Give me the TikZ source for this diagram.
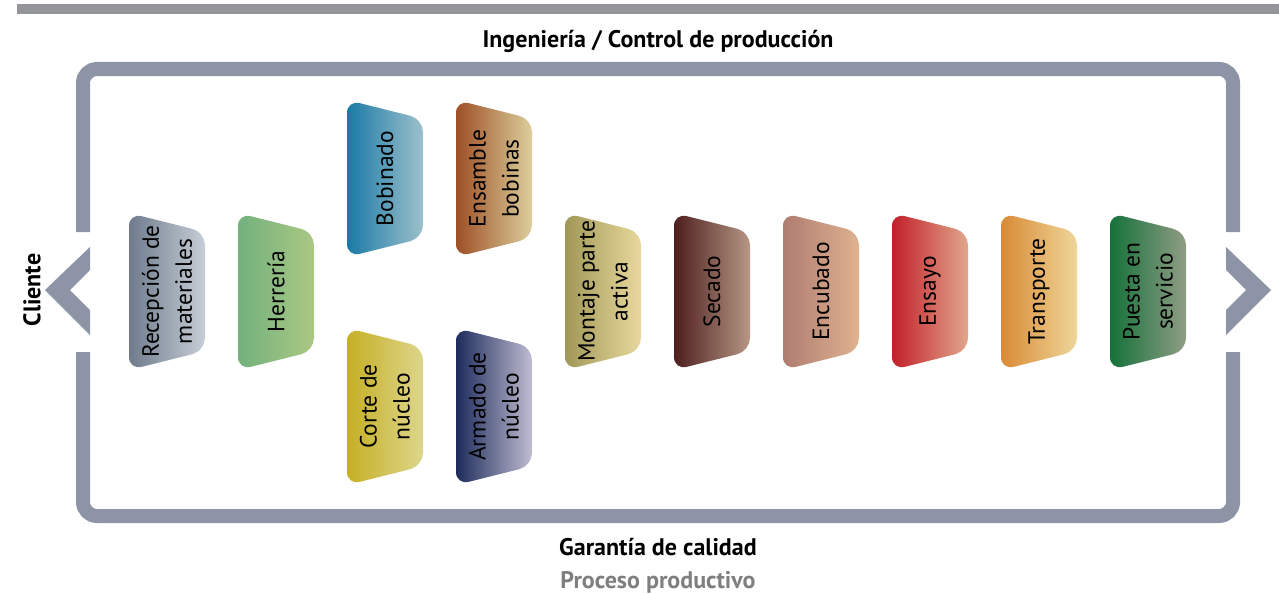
\documentclass[tikz,border=0pt]{standalone}
\usepackage{fontspec}
\setmainfont{PT Sans}
\usepackage{tikz}

\definecolor{framegray}{HTML}{8C94A6}
\definecolor{bargray}{HTML}{949598}
\definecolor{subgray}{HTML}{7F7F80}

\definecolor{recL}{HTML}{6F7B8C}  \definecolor{recR}{HTML}{C6CED7}
\definecolor{herL}{HTML}{72B17E}  \definecolor{herR}{HTML}{ABC883}
\definecolor{bobL}{HTML}{1A7AA6}  \definecolor{bobR}{HTML}{9DC0CC}
\definecolor{ensL}{HTML}{9E4F26}  \definecolor{ensR}{HTML}{DCCF9C}
\definecolor{corL}{HTML}{C6AF25}  \definecolor{corR}{HTML}{DDD68C}
\definecolor{armL}{HTML}{1D2C5C}  \definecolor{armR}{HTML}{C0BCD1}
\definecolor{monL}{HTML}{A09858}  \definecolor{monR}{HTML}{E9D89D}
\definecolor{secL}{HTML}{4D1E1E}  \definecolor{secR}{HTML}{B69784}
\definecolor{encL}{HTML}{AF7C72}  \definecolor{encR}{HTML}{DFB28F}
\definecolor{esyL}{HTML}{C21F29}  \definecolor{esyR}{HTML}{E1A78C}
\definecolor{traL}{HTML}{D98A35}  \definecolor{traR}{HTML}{EED69A}
\definecolor{pueL}{HTML}{15713A}  \definecolor{pueR}{HTML}{909D84}

% one stage of the process: name, x, y, label (colours are name L / name R)
\newcommand{\stage}[4]{%
  \shade[left color=#1L, right color=#1R, rounded corners=13pt]
    (#2,#3) -- (#2+76,#3+19) -- (#2+76,#3+138) -- (#2,#3+157) -- cycle;
  \node[stagetext] at (#2+38,#3+78.5) (#1) {#4};
}

\begin{document}
\begin{tikzpicture}[x=1pt, y=-1pt,
    stagetext/.style={rotate=90, align=center, inner sep=0pt,
      font=\fontsize{23.5}{33}\selectfont},
    heading/.style={font=\bfseries\fontsize{24}{28}\selectfont},
    frameline/.style={draw=framegray, line width=14pt, rounded corners=14pt},
    chevron/.style={fill=framegray}]
  \useasboundingbox (0,0) rectangle (1279,594);
  \clip (0,0) rectangle (1279,594);

  \fill[bargray] (17,4) rectangle (1279,14);

  \node[heading] at (658,41) (eng) {Ingeniería / Control de producción};
  \node[heading] at (658,547) (qa) {Garantía de calidad};
  \node[heading, text=subgray] at (658,582) (proc) {Proceso productivo};

  % frame with openings left and right
  \draw[frameline] (83,232) -- (83,69) -- (1233,69) -- (1233,232);
  \draw[frameline] (1233,352) -- (1233,516) -- (83,516) -- (83,352);

  \fill[chevron] (90,247) -- (45,290) -- (90,335) -- (90,310) -- (70,290) -- (90,270) -- cycle;
  \fill[chevron] (1226,247) -- (1271,290) -- (1226,335) -- (1226,310) -- (1246,290) -- (1226,270) -- cycle;

  \node[heading, rotate=90] at (32,290) (cli) {Cliente};
  \node[heading, rotate=90] at (1289,292) (cliR) {Cliente};

  \stage{rec}{129}{213}{Recepción de\\materiales}
  \stage{her}{238}{213}{Herrería}
  \stage{bob}{347}{100}{Bobinado}
  \stage{ens}{456}{100}{Ensamble\\bobinas}
  \stage{cor}{347}{328}{Corte de\\núcleo}
  \stage{arm}{456}{328}{Armado de\\núcleo}
  \stage{mon}{565}{213}{Montaje parte\\activa}
  \stage{sec}{674}{213}{Secado}
  \stage{enc}{783}{213}{Encubado}
  \stage{esy}{892}{213}{Ensayo}
  \stage{tra}{1001}{213}{Transporte}
  \stage{pue}{1110}{213}{Puesta en\\servicio}
\end{tikzpicture}
\end{document}
